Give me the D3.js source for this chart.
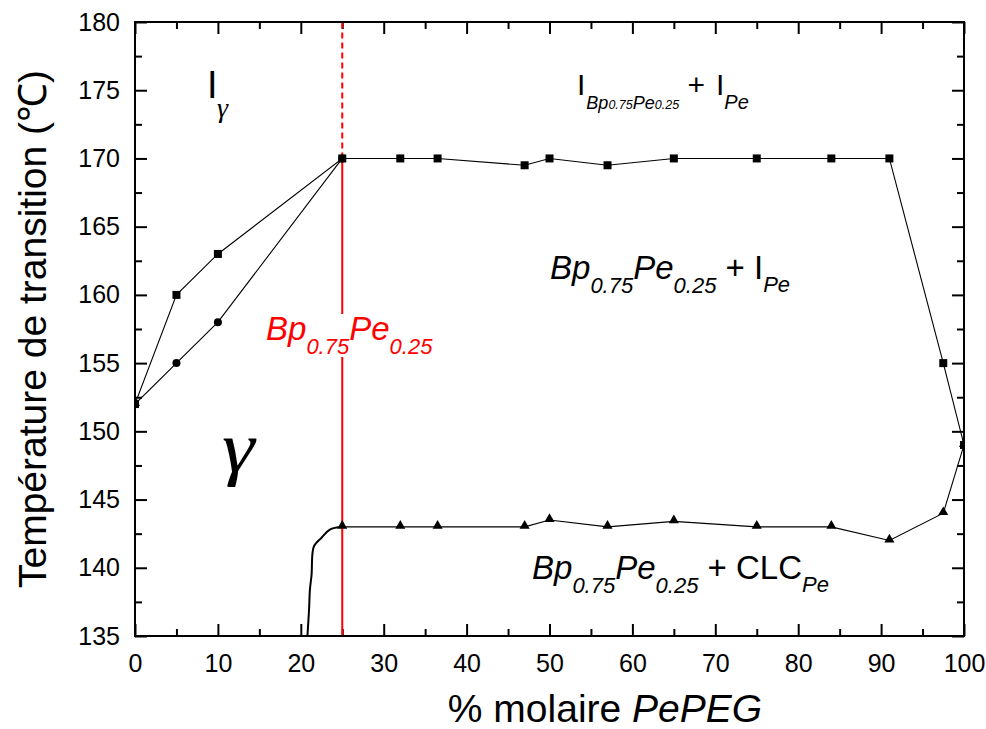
<!DOCTYPE html>
<html><head><meta charset="utf-8">
<script src="https://cdn.jsdelivr.net/npm/d3@7"></script>
<style>body{margin:0;background:#fff}svg{display:block}text{font-family:Arial,"Liberation Sans",sans-serif}</style>
</head><body>
<svg id="c" width="986" height="729"></svg>
<script>
// ---- data ----
const squareX = [0, 5, 10, 25, 32, 36.5, 47, 50, 57, 65, 75, 84, 91, 97.5, 100];
const squareY = [152, 160, 163, 170, 170, 170, 169.5, 170, 169.5, 170, 170, 170, 170, 155, 149];
const circleX = [0, 5, 10, 25];
const circleY = [152, 155, 158, 170];
const triangleX = [0, 25, 32, 36.5, 47, 50, 57, 65, 75, 84, 91, 97.5, 100];
const triangleY = [152, 143, 143, 143, 143, 143.5, 143, 143.4, 143, 143, 142, 144, 149];
const curveX = [20.8, 21.0, 21.1, 21.3, 21.4, 21.6, 22.5, 23.5, 25];
const curveY = [135, 137.0, 138.4, 139.5, 141.0, 141.6, 142.2, 142.8, 143];
const xMajor = [0, 10, 20, 30, 40, 50, 60, 70, 80, 90, 100];
const xMinor = [5, 15, 25, 35, 45, 55, 65, 75, 85, 95];
const yMajor = [135, 140, 145, 150, 155, 160, 165, 170, 175, 180];
const yMinor = [137.5, 142.5, 147.5, 152.5, 157.5, 162.5, 167.5, 172.5, 177.5];
const compoX = 25, compoYTop = 170;

const svg = d3.select("#c");
const L = 135, R = 964, T = 22, B = 636;
const xs = d3.scaleLinear().domain([0, 100]).range([L, R]);
const ys = d3.scaleLinear().domain([135, 180]).range([B, T]);
const SERIF = "'Liberation Serif', 'Times New Roman', 'DejaVu Serif', serif";

svg.append("defs").append("clipPath").attr("id", "clip")
  .append("rect").attr("x", L).attr("y", T).attr("width", R - L).attr("height", B - T);

// axes
function ax(gen, tr, vals, size, labels, pad) {
  const g = svg.append("g").attr("transform", tr)
    .call(gen.tickValues(vals).tickSizeInner(size).tickSizeOuter(0).tickPadding(pad)
      .tickFormat(labels ? d3.format("d") : () => ""));
  g.select(".domain").remove();
  g.selectAll("line").attr("stroke", "#000").attr("stroke-width", 2);
  g.selectAll("text").attr("font-size", 25).attr("font-family", "Arial, 'Liberation Sans', sans-serif").attr("fill", "#000");
  return g;
}
ax(d3.axisBottom(xs), `translate(0,${B})`, xMajor, -12, true, 18);
ax(d3.axisBottom(xs), `translate(0,${B})`, xMinor, -7, false, 18);
ax(d3.axisTop(xs), `translate(0,${T})`, xMajor, -12, false, 3);
ax(d3.axisTop(xs), `translate(0,${T})`, xMinor, -7, false, 3);
ax(d3.axisLeft(ys), `translate(${L},0)`, yMajor, -12, true, 15);
ax(d3.axisLeft(ys), `translate(${L},0)`, yMinor, -7, false, 15);
ax(d3.axisRight(ys), `translate(${R},0)`, yMajor, -12, false, 3);
ax(d3.axisRight(ys), `translate(${R},0)`, yMinor, -7, false, 3);

const plot = svg.append("g").attr("clip-path", "url(#clip)");

// red vertical composition line
plot.append("line").attr("x1", xs(compoX)).attr("x2", xs(compoX))
  .attr("y1", ys(135)).attr("y2", ys(compoYTop)).attr("stroke", "#ff0000").attr("stroke-width", 2);
plot.append("line").attr("x1", xs(compoX)).attr("x2", xs(compoX))
  .attr("y1", ys(compoYTop)).attr("y2", ys(180)).attr("stroke", "#ff0000").attr("stroke-width", 2)
  .attr("stroke-dasharray", "6,4");

const line = d3.line().x(d => xs(d[0])).y(d => ys(d[1]));
const sq = squareX.map((x, i) => [x, squareY[i]]);
const ci = circleX.map((x, i) => [x, circleY[i]]);
const tr = triangleX.map((x, i) => [x, triangleY[i]]);
const cu = curveX.map((x, i) => [x, curveY[i]]);

plot.append("path").attr("d", line(sq)).attr("fill", "none").attr("stroke", "#000").attr("stroke-width", 1.1);
plot.append("path").attr("d", line(ci)).attr("fill", "none").attr("stroke", "#000").attr("stroke-width", 1.1);
plot.append("path").attr("d", line(tr.slice(1))).attr("fill", "none").attr("stroke", "#000").attr("stroke-width", 1.1);
plot.append("path").attr("d", d3.line().curve(d3.curveCatmullRom).x(d => xs(d[0])).y(d => ys(d[1]))(cu))
  .attr("fill", "none").attr("stroke", "#000").attr("stroke-width", 2);

plot.selectAll(".sq").data(sq).join("rect").attr("x", d => xs(d[0]) - 4).attr("y", d => ys(d[1]) - 4)
  .attr("width", 8).attr("height", 8).attr("fill", "#000");
plot.selectAll(".ci").data(ci).join("circle").attr("cx", d => xs(d[0])).attr("cy", d => ys(d[1]))
  .attr("r", 4).attr("fill", "#000");
plot.selectAll(".tr").data(tr).join("path").attr("d", d3.symbol(d3.symbolTriangle, 44))
  .attr("transform", d => `translate(${xs(d[0])},${ys(d[1]) - 1})`).attr("fill", "#000");

// frame
svg.append("rect").attr("x", L).attr("y", T).attr("width", R - L).attr("height", B - T)
  .attr("fill", "none").attr("stroke", "#000").attr("stroke-width", 2);

// rich text helper
function rich(x, y, parts, fill, bg) {
  const t = svg.append("text").attr("x", x).attr("y", y).attr("fill", fill || "#000");
  let cur = 0;
  parts.forEach(p => {
    const s = t.append("tspan").text(p.t).attr("font-size", p.s);
    if (p.i) s.attr("font-style", "italic");
    if (p.f) s.style("font-family", p.f);
    if (p.dx) s.attr("dx", p.dx);
    const off = (p.o || 0) - cur;
    if (off) s.attr("dy", off);
    cur = p.o || 0;
  });
  if (bg) {
    const b = t.node().getBBox();
    svg.insert("rect", () => t.node()).attr("x", b.x).attr("y", b.y + 4).attr("width", b.width)
      .attr("height", b.height - 6).attr("fill", "#fff");
  }
  return t;
}

// region labels
rich(207, 98, [{t: "I", s: 38}]);
rich(217, 117, [{t: "γ", s: 28, i: true, f: SERIF}]);
svg.append("text").attr("x", 0).attr("y", 0).attr("transform", "translate(222,472) scale(1.15,1)")
  .style("font-family", SERIF).attr("font-style", "italic").attr("font-size", 72).attr("fill", "#000").text("γ");

rich(577, 95, [
  {t: "I", s: 30},
  {t: "Bp", s: 18, i: true, o: 14, dx: 1}, {t: "0.75", s: 12.5, i: true, o: 14},
  {t: "Pe", s: 18, i: true, o: 14}, {t: "0.25", s: 12.5, i: true, o: 14},
  {t: " +", s: 30, o: 0}, {t: "I", s: 30, dx: 11}, {t: "Pe", s: 20, i: true, o: 14}
]);

rich(550, 279, [
  {t: "Bp", s: 33, i: true}, {t: "0.75", s: 22, i: true, o: 14},
  {t: "Pe", s: 33, i: true, o: 0}, {t: "0.25", s: 22, i: true, o: 14},
  {t: " + I", s: 33, o: 0}, {t: "Pe", s: 22, i: true, o: 13}
]);

rich(532, 579, [
  {t: "Bp", s: 33, i: true}, {t: "0.75", s: 22, i: true, o: 14},
  {t: "Pe", s: 33, i: true, o: 0}, {t: "0.25", s: 22, i: true, o: 14},
  {t: " + CLC", s: 33, o: 0}, {t: "Pe", s: 22, i: true, o: 13}
]);

rich(266, 340, [
  {t: "Bp", s: 33, i: true}, {t: "0.75", s: 22, i: true, o: 14},
  {t: "Pe", s: 33, i: true, o: 0}, {t: "0.25", s: 22, i: true, o: 14}
], "#ff0000", true);

// axis titles
svg.append("text").attr("transform", "translate(46,329) rotate(-90)").attr("text-anchor", "middle")
  .attr("font-size", 39).attr("fill", "#000").text("Température de transition (℃)");
const xt = svg.append("text").attr("x", 605).attr("y", 722).attr("text-anchor", "middle")
  .attr("font-size", 39).attr("fill", "#000");
xt.append("tspan").text("% molaire ");
xt.append("tspan").attr("font-style", "italic").text("PePEG");
</script>
</body></html>
